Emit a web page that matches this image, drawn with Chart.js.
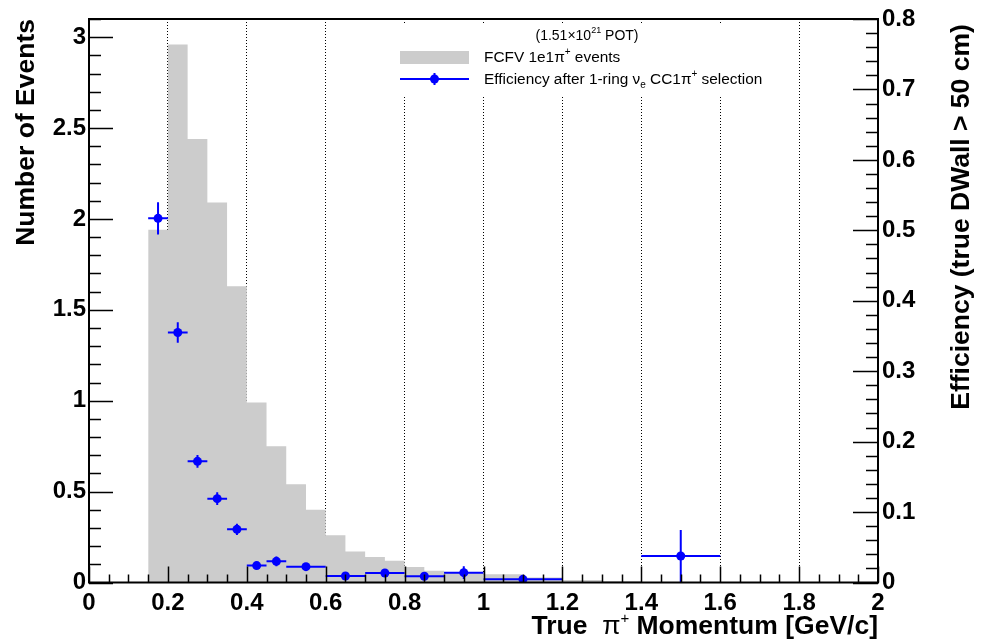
<!DOCTYPE html>
<html>
<head>
<meta charset="utf-8">
<script src="https://cdn.jsdelivr.net/npm/chart.js@4.4.1/dist/chart.umd.min.js"></script>
<style>
  html, body { margin: 0; padding: 0; background: #fff; }
  #wrap { width: 987px; height: 640px; }
</style>
</head>
<body>
<div id="wrap"><canvas id="momentum-chart" width="987" height="640"></canvas></div>
<script>
// gray histogram: FCFV 1e1pi+ events (bin edges in GeV/c, counts per bin)
var histEdges = [0.15, 0.2, 0.25, 0.3, 0.35, 0.4, 0.45, 0.5, 0.55, 0.6, 0.65, 0.7, 0.75,
                 0.8, 0.85, 0.9, 0.95, 1.0, 1.1, 1.2, 1.3, 1.4];
var histCounts = [1.94, 2.96, 2.44, 2.09, 1.63, 0.99, 0.75, 0.54, 0.40, 0.26, 0.17, 0.14,
                  0.12, 0.085, 0.065, 0.056, 0.055, 0.045, 0.028, 0.014, 0.008];

// blue points: efficiency after 1-ring nue CC1pi+ selection (right axis)
var effLow    = [0.15, 0.2, 0.25, 0.3, 0.35, 0.4, 0.45, 0.5, 0.6, 0.7, 0.8, 0.9, 1.0, 1.4];
var effHigh   = [0.2, 0.25, 0.3, 0.35, 0.4, 0.45, 0.5, 0.6, 0.7, 0.8, 0.9, 1.0, 1.2, 1.6];
var effValues = [0.517, 0.355, 0.172, 0.119, 0.0755, 0.024, 0.030, 0.0225, 0.0092, 0.0135,
                 0.0088, 0.014, 0.0045, 0.0376];
var effErrors = [0.023, 0.0145, 0.009, 0.009, 0.008, 0.003, 0.007, 0.003, 0.002, 0.003,
                 0.002, 0.009, 0.002, 0.037];

// tick labels
var xTickValues = [0, 0.2, 0.4, 0.6, 0.8, 1, 1.2, 1.4, 1.6, 1.8, 2];
var xTickLabels = ['0', '0.2', '0.4', '0.6', '0.8', '1', '1.2', '1.4', '1.6', '1.8', '2'];
var yTickValues = [0, 0.5, 1, 1.5, 2, 2.5, 3];
var yTickLabels = ['0', '0.5', '1', '1.5', '2', '2.5', '3'];
var effTickValues = [0, 0.1, 0.2, 0.3, 0.4, 0.5, 0.6, 0.7, 0.8];
var effTickLabels = ['0', '0.1', '0.2', '0.3', '0.4', '0.5', '0.6', '0.7', '0.8'];

var FAMILY = '"Liberation Sans", Arial, Helvetica, sans-serif';
Chart.defaults.font.family = FAMILY;
Chart.defaults.color = '#000';

// stepped outline of the histogram
var histPoints = [{x: histEdges[0], y: 0}];
for (var i = 0; i < histCounts.length; i++) {
  histPoints.push({x: histEdges[i], y: histCounts[i]});
}
histPoints.push({x: histEdges[histEdges.length - 1], y: histCounts[histCounts.length - 1]});
histPoints.push({x: histEdges[histEdges.length - 1], y: 0});

var effPoints = effValues.map(function(v, i) {
  return {x: (effLow[i] + effHigh[i]) / 2, y: v};
});

function fixedTicks(values) {
  return function(scale) {
    scale.ticks = values.map(function(v) { return {value: v}; });
  };
}

function drawRich(ctx, x, y, parts) {
  var cx = x;
  parts.forEach(function(p) {
    ctx.font = p[1];
    ctx.fillText(p[0], cx, y + (p[2] || 0));
    cx += ctx.measureText(p[0]).width;
  });
  return cx - x;
}

function richWidth(ctx, parts) {
  var w = 0;
  parts.forEach(function(p) {
    ctx.font = p[1];
    w += ctx.measureText(p[0]).width;
  });
  return w;
}

var rootStyle = {
  id: 'rootStyle',
  afterDatasetsDraw: function(chart) {
    var ctx = chart.ctx;
    var xs = chart.scales.x, ys = chart.scales.y2;
    ctx.save();
    ctx.strokeStyle = '#0000ff';
    ctx.lineWidth = 2;
    ctx.beginPath();
    for (var i = 0; i < effValues.length; i++) {
      var y = ys.getPixelForValue(effValues[i]);
      var xc = xs.getPixelForValue((effLow[i] + effHigh[i]) / 2);
      ctx.moveTo(xs.getPixelForValue(effLow[i]), y);
      ctx.lineTo(xs.getPixelForValue(effHigh[i]), y);
      ctx.moveTo(xc, ys.getPixelForValue(effValues[i] + effErrors[i]));
      ctx.lineTo(xc, ys.getPixelForValue(Math.max(0, effValues[i] - effErrors[i])));
    }
    ctx.stroke();
    ctx.restore();
  },
  afterDraw: function(chart) {
    var ctx = chart.ctx, a = chart.chartArea;
    var xs = chart.scales.x, yl = chart.scales.y, yr = chart.scales.y2;
    var k, p, len;
    ctx.save();

    // inner tick marks
    ctx.strokeStyle = '#000';
    ctx.lineWidth = 1.5;
    ctx.beginPath();
    for (k = 0; k <= 40; k++) {
      p = Math.round(xs.getPixelForValue(k * 0.05)) + 0.5;
      len = (k % 4 === 0) ? 16 : 8;
      ctx.moveTo(p, a.bottom); ctx.lineTo(p, a.bottom - len);
    }
    for (k = 0; k <= 31; k++) {
      p = Math.round(yl.getPixelForValue(k * 0.1)) + 0.5;
      len = (k % 5 === 0) ? 24 : 12;
      ctx.moveTo(a.left, p); ctx.lineTo(a.left + len, p);
    }
    for (k = 0; k <= 40; k++) {
      p = Math.round(yr.getPixelForValue(k * 0.02)) + 0.5;
      len = (k % 5 === 0) ? 25 : 12;
      ctx.moveTo(a.right, p); ctx.lineTo(a.right - len, p);
    }
    ctx.stroke();

    // frame
    ctx.lineWidth = 2;
    ctx.strokeRect(a.left, a.top, a.right - a.left, a.bottom - a.top);

    // legend box
    ctx.fillStyle = '#fff';
    ctx.fillRect(395, 25, 390, 70);
    ctx.fillStyle = '#000';
    ctx.textBaseline = 'alphabetic';
    ctx.textAlign = 'left';
    var pot = [['(1.51\u00d710', '14px ' + FAMILY], ['21', '9px ' + FAMILY, -7], [' POT)', '14px ' + FAMILY]];
    drawRich(ctx, 587 - richWidth(ctx, pot) / 2, 40, pot);

    ctx.fillStyle = '#cccccc';
    ctx.fillRect(400, 51, 69, 13);
    ctx.fillStyle = '#000';
    drawRich(ctx, 484, 62, [['FCFV 1e1\u03c0', '15.4px ' + FAMILY], ['+', '10px ' + FAMILY, -7],
                            [' events', '15.4px ' + FAMILY]]);

    ctx.strokeStyle = '#0000ff';
    ctx.fillStyle = '#0000ff';
    ctx.lineWidth = 2;
    ctx.beginPath();
    ctx.moveTo(400, 79); ctx.lineTo(469, 79);
    ctx.moveTo(434.5, 73); ctx.lineTo(434.5, 85);
    ctx.stroke();
    ctx.beginPath();
    ctx.arc(434.5, 79, 4.5, 0, Math.PI * 2);
    ctx.fill();
    ctx.fillStyle = '#000';
    drawRich(ctx, 484, 84, [['Efficiency after 1-ring \u03bd', '15.4px ' + FAMILY], ['e', '10px ' + FAMILY, 4],
                            [' CC1\u03c0', '15.4px ' + FAMILY], ['+', '10px ' + FAMILY, -7],
                            [' selection', '15.4px ' + FAMILY]]);

    // x axis title
    var xt = [['True  ', 'bold 26.5px ' + FAMILY], ['\u03c0', '26.5px ' + FAMILY], ['+', '15px ' + FAMILY, -11],
              [' Momentum [GeV/c]', 'bold 26.5px ' + FAMILY]];
    drawRich(ctx, a.right - richWidth(ctx, xt), 634, xt);

    // right axis title
    ctx.translate(962, 217);
    ctx.rotate(-Math.PI / 2);
    ctx.textAlign = 'center';
    ctx.textBaseline = 'middle';
    ctx.font = 'bold 26.5px ' + FAMILY;
    ctx.fillText('Efficiency (true DWall > 50 cm)', 0, 0);
    ctx.restore();
  }
};

var ctx = document.getElementById('momentum-chart');
window.momentumChart = new Chart(ctx, {
  type: 'line',
  data: {
    datasets: [{
      label: 'FCFV 1e1pi+ events',
      data: histPoints,
      yAxisID: 'y',
      stepped: 'before',
      fill: 'origin',
      backgroundColor: '#cccccc',
      borderColor: 'rgba(0,0,0,0)',
      borderWidth: 0,
      pointRadius: 0,
      order: 2
    }, {
      label: 'Efficiency after 1-ring nue CC1pi+ selection',
      data: effPoints,
      yAxisID: 'y2',
      showLine: false,
      pointRadius: 4.5,
      pointBackgroundColor: '#0000ff',
      pointBorderWidth: 0,
      order: 1
    }]
  },
  options: {
    responsive: false,
    animation: false,
    layout: { padding: { top: 19, left: 0, right: 0, bottom: 0 } },
    plugins: {
      legend: { display: false },
      tooltip: { enabled: false }
    },
    scales: {
      x: {
        type: 'linear', min: 0, max: 2, bounds: 'data',
        afterBuildTicks: fixedTicks(xTickValues),
        afterFit: function(s) { s.height = 57.5; },
        ticks: {
          autoSkip: false, maxRotation: 0, padding: 6,
          font: { size: 24, weight: 'bold' },
          callback: function(v, i) { return xTickLabels[i]; }
        },
        grid: {
          drawTicks: false, lineWidth: 1,
          color: function(c) {
            var v = c.tick ? c.tick.value : 0;
            return (v > 0.01 && v < 1.99) ? '#000' : 'rgba(0,0,0,0)';
          }
        },
        border: { display: false, dash: [1, 2] }
      },
      y: {
        position: 'left', min: 0, max: 3.1, bounds: 'data',
        afterBuildTicks: fixedTicks(yTickValues),
        afterFit: function(s) { s.width = 89; },
        ticks: {
          autoSkip: false, padding: 3,
          font: { size: 24, weight: 'bold' },
          callback: function(v, i) { return yTickLabels[i]; }
        },
        grid: { display: false, drawTicks: false },
        border: { display: false },
        title: {
          display: true, text: 'Number of Events', align: 'end',
          padding: { top: 11, bottom: 0 },
          font: { size: 26.5, weight: 'bold' }
        }
      },
      y2: {
        position: 'right', min: 0, max: 0.8, bounds: 'data',
        afterBuildTicks: fixedTicks(effTickValues),
        afterFit: function(s) { s.width = 109; },
        ticks: {
          autoSkip: false, padding: 4,
          font: { size: 24, weight: 'bold' },
          callback: function(v, i) { return effTickLabels[i]; }
        },
        grid: { display: false, drawTicks: false },
        border: { display: false }
      }
    }
  },
  plugins: [rootStyle]
});
</script>
</body>
</html>
